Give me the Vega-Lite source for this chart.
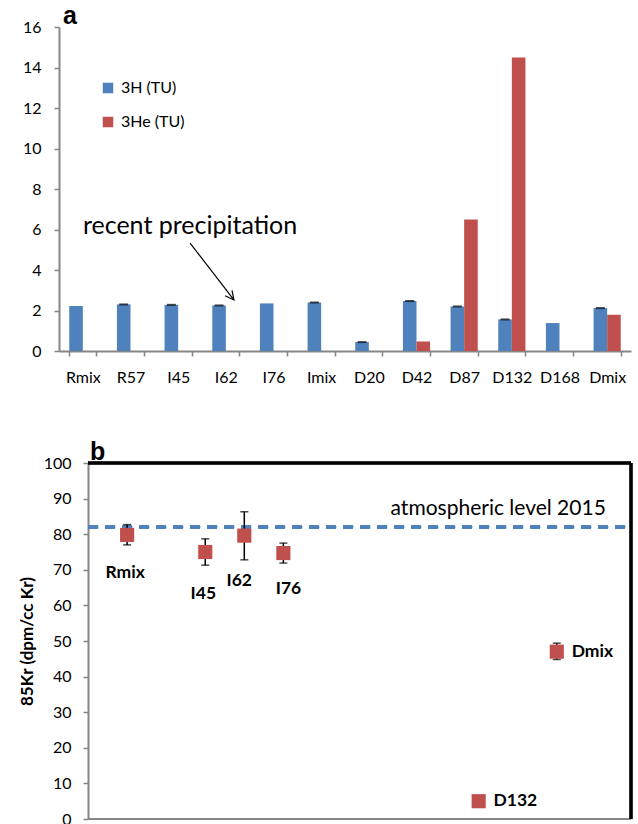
{
  "$schema": "https://vega.github.io/schema/vega-lite/v6.json",
  "padding": {"left": 0, "top": 4, "right": 5, "bottom": 0},
  "spacing": 55,
  "config": {
    "font": "Lato",
    "view": {"stroke": null},
    "axis": {"domainColor": "#868686", "domainWidth": 2, "tickColor": "#868686", "tickWidth": 1.5, "tickSize": 5, "labelColor": "#000", "labelFont": "Lato", "labelFontSize": 16, "grid": false, "titleColor": "#000", "labelOverlap": false, "labelSeparation": 0},
    "axisY": {"labelOverlap": false, "tickCount": 11},
    "title": {"font": "Liberation Sans", "fontSize": 25, "fontWeight": "bold", "anchor": "start", "frame": "group", "baseline": "alphabetic", "color": "#000"}
  },
  "datasets": {
    "bars": [
      {"cat": "Rmix", "series": "3H (TU)", "value": 2.22},
      {"cat": "R57", "series": "3H (TU)", "value": 2.3},
      {"cat": "I45", "series": "3H (TU)", "value": 2.28},
      {"cat": "I62", "series": "3H (TU)", "value": 2.25},
      {"cat": "I76", "series": "3H (TU)", "value": 2.35},
      {"cat": "Imix", "series": "3H (TU)", "value": 2.4},
      {"cat": "D20", "series": "3H (TU)", "value": 0.44},
      {"cat": "D42", "series": "3H (TU)", "value": 2.47},
      {"cat": "D87", "series": "3H (TU)", "value": 2.2},
      {"cat": "D132", "series": "3H (TU)", "value": 1.56},
      {"cat": "D168", "series": "3H (TU)", "value": 1.38},
      {"cat": "Dmix", "series": "3H (TU)", "value": 2.12},
      {"cat": "D42", "series": "3He (TU)", "value": 0.47},
      {"cat": "D87", "series": "3He (TU)", "value": 6.5},
      {"cat": "D132", "series": "3He (TU)", "value": 14.5},
      {"cat": "Dmix", "series": "3He (TU)", "value": 1.79}
    ],
    "caps": [
      {"cat": "R57", "series": "3H (TU)", "value": 2.3},
      {"cat": "I45", "series": "3H (TU)", "value": 2.28},
      {"cat": "I62", "series": "3H (TU)", "value": 2.25},
      {"cat": "Imix", "series": "3H (TU)", "value": 2.4},
      {"cat": "D20", "series": "3H (TU)", "value": 0.44},
      {"cat": "D42", "series": "3H (TU)", "value": 2.47},
      {"cat": "D87", "series": "3H (TU)", "value": 2.2},
      {"cat": "D132", "series": "3H (TU)", "value": 1.56},
      {"cat": "Dmix", "series": "3H (TU)", "value": 2.12}
    ],
    "kr": [
      {"name": "Rmix", "pos": 1, "value": 79.8, "lo": 77.0, "hi": 82.7, "lx": 0.95, "ly": 69.1, "side": "c"},
      {"name": "I45", "pos": 3, "value": 75.0, "lo": 71.3, "hi": 78.7, "lx": 2.95, "ly": 63.2, "side": "c"},
      {"name": "I62", "pos": 4, "value": 79.6, "lo": 72.8, "hi": 86.3, "lx": 3.87, "ly": 66.9, "side": "c"},
      {"name": "I76", "pos": 5, "value": 74.7, "lo": 71.9, "hi": 77.5, "lx": 5.13, "ly": 64.6, "side": "c"},
      {"name": "D132", "pos": 10, "value": 5.0, "lo": 5.0, "hi": 5.0, "lx": 10.38, "ly": 5.1, "side": "l"},
      {"name": "Dmix", "pos": 12, "value": 47.0, "lo": 44.8, "hi": 49.4, "lx": 12.38, "ly": 46.9, "side": "l"}
    ]
  },
  "vconcat": [
    {
      "title": {"text": "a", "offset": -10, "dx": 4},
      "width": 572,
      "height": 324,
      "layer": [
        {
          "layer": [
            {
              "data": {"name": "bars"},
              "mark": {"type": "bar"},
              "encoding": {
                "x": {"field": "cat", "type": "nominal", "sort": ["Rmix","R57","I45","I62","I76","Imix","D20","D42","D87","D132","D168","Dmix"],
                      "scale": {"paddingInner": 0.43, "paddingOuter": 0.215},
                      "axis": {"title": null, "labelAngle": 0, "tickBand": "extent", "labelPadding": 13}},
                "xOffset": {"field": "series", "type": "nominal", "scale": {"domain": ["3H (TU)", "3He (TU)"]}},
                "y": {"field": "value", "type": "quantitative", "scale": {"domain": [0, 16], "nice": false},
                      "axis": {"title": null, "values": [0,2,4,6,8,10,12,14,16], "labelPadding": 13, "minExtent": 59, "maxExtent": 59}},
                "color": {"field": "series", "type": "nominal",
                          "scale": {"domain": ["3H (TU)", "3He (TU)"], "range": ["#4F81BD", "#C0504D"]},
                          "legend": {"title": null, "orient": "none", "legendX": 41, "legendY": 53, "symbolType": "square", "symbolSize": 110, "symbolStrokeWidth": 0, "labelFontSize": 16, "labelFont": "Lato", "rowPadding": 18, "labelOffset": 5}}
              }
            },
            {
              "data": {"name": "caps"},
              "mark": {"type": "tick", "orient": "horizontal", "color": "#000", "thickness": 2, "size": 9},
              "encoding": {
                "x": {"field": "cat", "type": "nominal", "sort": ["Rmix","R57","I45","I62","I76","Imix","D20","D42","D87","D132","D168","Dmix"]},
                "xOffset": {"field": "series", "type": "nominal"},
                "y": {"field": "value", "type": "quantitative"}
              }
            },
            {
              "mark": {"type": "rule", "color": "#0070C0", "strokeWidth": 3, "strokeDash": [10, 8]},
              "encoding": {"y": {"datum": 2.42, "type": "quantitative"}}
            },
            {
              "mark": {"type": "rule", "color": "#000", "strokeWidth": 2.5},
              "encoding": {"y": {"datum": 16, "type": "quantitative"}}
            }
          ]
        },
        {
          "layer": [
            {
              "data": {"values": [{"x": 2.75, "y": 6.17, "label": "recent precipitation"}]},
              "mark": {"type": "text", "fontSize": 25, "font": "Lato", "color": "#000", "baseline": "middle"},
              "encoding": {
                "x": {"field": "x", "type": "quantitative", "scale": {"domain": [0, 12]}, "axis": null},
                "y": {"field": "y", "type": "quantitative"},
                "text": {"field": "label"}
              }
            },
            {
              "data": {"values": [{"x": 2.75, "y": 5.33, "x2": 3.67, "y2": 2.52}]},
              "mark": {"type": "rule", "color": "#000", "strokeWidth": 1.2},
              "encoding": {
                "x": {"field": "x", "type": "quantitative", "scale": {"domain": [0, 12]}, "axis": null},
                "y": {"field": "y", "type": "quantitative"},
                "x2": {"field": "x2"},
                "y2": {"field": "y2"}
              }
            },
            {
              "data": {"values": [{"x": 2.75, "y": 5.33, "x2": 3.67, "y2": 2.52}]},
              "mark": {"type": "point", "shape": "M-0.5,1L0,0L0.5,1", "filled": false, "stroke": "#000", "strokeWidth": 1.2, "size": 300, "angle": 142, "opacity": 1},
              "encoding": {
                "x": {"field": "x2", "type": "quantitative", "scale": {"domain": [0, 12]}, "axis": null},
                "y": {"field": "y2", "type": "quantitative"}
              }
            },
            {
              "mark": {"type": "rule", "color": "#000", "strokeWidth": 2.5},
              "encoding": {
                "x": {"datum": 12, "type": "quantitative", "scale": {"domain": [0, 12]}, "axis": null}
              }
            }
          ]
        }
      ],
      "resolve": {"scale": {"x": "independent"}, "axis": {"x": "independent"}}
    },
    {
      "title": {"text": "b", "offset": -10, "dx": 31},
      "width": 572,
      "height": 356,
      "data": {"name": "kr"},
      "layer": [
        {
          "mark": {"type": "rule", "color": "#4F81BD", "strokeWidth": 3, "strokeDash": [10, 7]},
          "encoding": {
            "x": {"datum": 0, "type": "quantitative", "scale": {"domain": [-0.744, 13.9], "nice": false, "zero": false}, "axis": null},
            "x2": {"datum": 13.9},
            "y": {"datum": 82, "type": "quantitative", "scale": {"domain": [0, 100], "nice": false},
                  "axis": {"title": "85Kr (dpm/cc Kr)", "titleFont": "Lato", "titleFontSize": 17, "titleFontWeight": "bold", "titlePadding": 6, "values": [0,10,20,30,40,50,60,70,80,90,100], "tickCount": 11, "labelPadding": 12, "labelOverlap": false, "labelBound": false, "minExtent": 46, "maxExtent": 46, "offset": -29}}
          }
        },
        {
          "mark": {"type": "rule", "color": "#000", "strokeWidth": 1.5},
          "encoding": {
            "x": {"field": "pos", "type": "quantitative"},
            "y": {"field": "lo", "type": "quantitative"},
            "y2": {"field": "hi"}
          }
        },
        {
          "mark": {"type": "tick", "orient": "horizontal", "color": "#000", "thickness": 1.5, "size": 8},
          "encoding": {"x": {"field": "pos", "type": "quantitative"}, "y": {"field": "lo", "type": "quantitative"}}
        },
        {
          "mark": {"type": "tick", "orient": "horizontal", "color": "#000", "thickness": 1.5, "size": 8},
          "encoding": {"x": {"field": "pos", "type": "quantitative"}, "y": {"field": "hi", "type": "quantitative"}}
        },
        {
          "mark": {"type": "point", "shape": "square", "filled": true, "color": "#C0504D", "size": 200, "opacity": 1},
          "encoding": {"x": {"field": "pos", "type": "quantitative"}, "y": {"field": "value", "type": "quantitative"}}
        },
        {
          "transform": [{"filter": "datum.side === 'c'"}],
          "mark": {"type": "text", "fontSize": 17.5, "fontWeight": "bold", "font": "Lato", "color": "#000", "baseline": "middle", "align": "center"},
          "encoding": {"x": {"field": "lx", "type": "quantitative"}, "y": {"field": "ly", "type": "quantitative"}, "text": {"field": "name"}}
        },
        {
          "transform": [{"filter": "datum.side === 'l'"}],
          "mark": {"type": "text", "fontSize": 17.5, "fontWeight": "bold", "font": "Lato", "color": "#000", "baseline": "middle", "align": "left"},
          "encoding": {"x": {"field": "lx", "type": "quantitative"}, "y": {"field": "ly", "type": "quantitative"}, "text": {"field": "name"}}
        },
        {
          "data": {"values": [{"x": 10.5, "y": 87.1, "label": "atmospheric level 2015"}]},
          "mark": {"type": "text", "fontSize": 21, "font": "Lato", "color": "#000", "baseline": "middle", "align": "center"},
          "encoding": {"x": {"field": "x", "type": "quantitative"}, "y": {"field": "y", "type": "quantitative"}, "text": {"field": "label"}}
        },
        {
          "mark": {"type": "rule", "color": "#000", "strokeWidth": 2.5},
          "encoding": {"x": {"datum": 0, "type": "quantitative"}, "x2": {"datum": 13.9}, "y": {"datum": 100, "type": "quantitative"}}
        },
        {
          "mark": {"type": "rule", "color": "#868686", "strokeWidth": 2},
          "encoding": {"x": {"datum": 0, "type": "quantitative"}, "x2": {"datum": 13.9}, "y": {"datum": 0, "type": "quantitative"}}
        },
        {
          "mark": {"type": "rule", "color": "#000", "strokeWidth": 2.5},
          "encoding": {"x": {"datum": 13.9, "type": "quantitative"}}
        }
      ]
    }
  ]
}
